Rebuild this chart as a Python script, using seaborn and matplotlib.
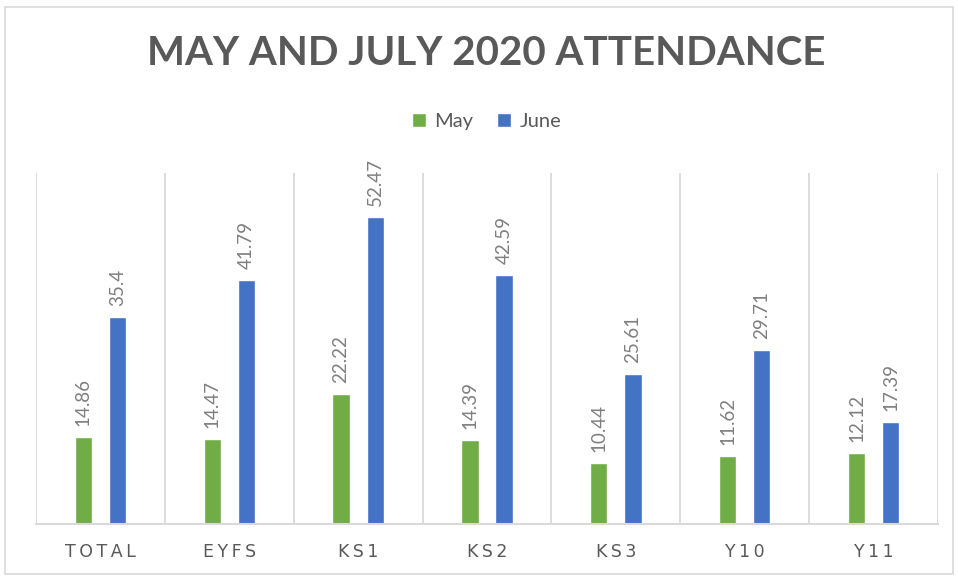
import pandas as pd
import matplotlib
matplotlib.use("Agg")
import matplotlib.pyplot as plt
import seaborn as sns
from matplotlib.patches import Patch, Rectangle

sns.set_style("white")
plt.rcParams["font.family"] = ["Lato", "DejaVu Sans"]

groups = ["TOTAL", "EYFS", "KS1", "KS2", "KS3", "Y10", "Y11"]
may = [14.86, 14.47, 22.22, 14.39, 10.44, 11.62, 12.12]
june = [35.4, 41.79, 52.47, 42.59, 25.61, 29.71, 17.39]
months = ["May", "June"]
colors = ["#70AD47", "#4472C4"]

df = pd.DataFrame({
    "Group": groups * 2,
    "Month": ["May"] * len(groups) + ["June"] * len(groups),
    "Value": may + june,
})

fig = plt.figure(figsize=(9.58, 5.79), dpi=100)
ax = fig.add_axes([0.0376, 0.095, 0.9415, 0.606])

sns.barplot(data=df, x="Group", y="Value", hue="Month", hue_order=months,
            palette=colors, width=0.53, gap=0.49, saturation=1, ax=ax,
            legend=False, errorbar=None)

for cont in ax.containers:
    ax.bar_label(cont, labels=[f"{v:g}" for v in cont.datavalues], rotation=90,
                 padding=8, color="#7F7F7F", fontsize=13.5)

ax.set_ylim(0, 60)
ax.set_xlim(-0.5, len(groups) - 0.5)
ax.set_yticks([])
ax.set_xlabel("")
ax.set_ylabel("")
ax.set_xticks(range(len(groups)))
ax.set_xticklabels(["\u2009".join(g) for g in groups], color="#595959", fontsize=12.5,
                   family=["DejaVu Sans"])
ax.tick_params(axis="x", length=0, pad=14)

for x in [i - 0.5 for i in range(len(groups) + 1)]:
    ax.axvline(x, color="#D9D9D9", lw=1.3, zorder=0)
for side in ["top", "left", "right"]:
    ax.spines[side].set_visible(False)
ax.spines["bottom"].set_color("#D9D9D9")
ax.spines["bottom"].set_linewidth(1.5)

fig.text(0.507, 0.908, "MAY AND JULY 2020 ATTENDANCE",
         ha="center", va="center", fontsize=29, fontweight="bold", color="#595959")

handles = [Patch(facecolor=c, label=m) for c, m in zip(colors, months)]
fig.legend(handles=handles, loc="center", bbox_to_anchor=(0.508, 0.79), ncol=2,
           frameon=False, fontsize=14.5, handlelength=0.7, handleheight=0.7,
           handletextpad=0.4, columnspacing=1.2, labelcolor="#595959")

fig.patches.append(Rectangle((0.005, 0.008), 0.99, 0.98, transform=fig.transFigure,
                             fill=False, edgecolor="#D9D9D9", lw=1.2))

fig.savefig("out.png", dpi=100)
